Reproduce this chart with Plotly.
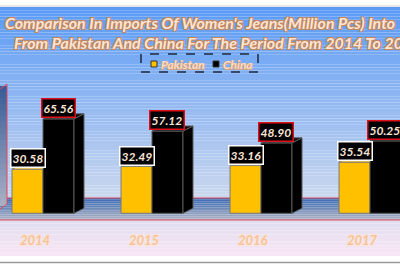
import plotly.graph_objects as go

# ---------------- data ----------------
years = ["2014", "2015", "2016", "2017"]
pakistan = [30.58, 32.49, 33.16, 35.54]
china = [65.56, 57.12, 48.90, 50.25]
series_names = ["Pakistan", "China"]
title_line1 = "Comparison In Imports Of Women's Jeans(Million Pcs) Into"
title_line2 = "From Pakistan And China For The Period From 2014 To 2017"

# ---------------- styling ----------------
W, H = 400, 266
PAK_COL = "#FFC000"
CHN_COL = "#000000"
EDGE = "#5a5a5a"
BW = 0.284          # bar width in category units
DX, DY = 0.092, 3.5  # 3D depth offsets (x in category units, y in value units)
FONT = "Lato"
PEACH = "#fbe5d6"
OUT = "#c4865c"
outline = ", ".join(f"{a}px {b}px 0.6px {OUT}" for a, b in [(-1, -1), (1, -1), (-1, 1), (1, 1)])
soft_outline = ", ".join(f"{a}px {b}px 0.4px #fde6d4" for a, b in [(-0.6, -0.6), (0.6, -0.6), (-0.6, 0.6), (0.6, 0.6)])
leg_outline = ", ".join(f"{a}px {b}px 0.4px #d9a27c" for a, b in [(-0.5, -0.5), (0.5, -0.5), (-0.5, 0.5), (0.5, 0.5)])


def px(x):
    return x / W


def py(p):
    return 1 - p / H


def hex2rgb(h):
    h = h.lstrip("#")
    return [int(h[i:i + 2], 16) for i in (0, 2, 4)]


def mix(c1, c2, t):
    a, b = hex2rgb(c1), hex2rgb(c2)
    return "rgb(%d,%d,%d)" % tuple(round(a[i] + (b[i] - a[i]) * t) for i in range(3))


shapes = []


def gradient(x0, x1, p0, p1, c1, c2, n):
    for k in range(n):
        t = k / max(n - 1, 1)
        shapes.append(dict(type="rect", xref="paper", yref="paper", layer="below",
                           x0=px(x0), x1=px(x1),
                           y0=py(p0 + (p1 - p0) * k / n), y1=py(p0 + (p1 - p0) * (k + 1) / n),
                           fillcolor=mix(c1, c2, t), line=dict(width=0)))


# page/background
gradient(0, W, 7, 198, "#5a9af5", "#cad7ee", 60)
gradient(0, W, 198, 220, "#3c6cb4", "#aab0c2", 12)
gradient(0, W, 220, 256, "#e2def0", "#f7e6f4", 10)
shapes.append(dict(type="rect", xref="paper", yref="paper", layer="below", x0=0, x1=1,
                   y0=py(7), y1=1, fillcolor="#ffffff", line=dict(width=0)))
shapes.append(dict(type="line", xref="paper", yref="paper", layer="below", x0=0, x1=1,
                   y0=py(6), y1=py(6), line=dict(color="#d0d0d0", width=1)))
shapes.append(dict(type="rect", xref="paper", yref="paper", layer="below", x0=0, x1=1,
                   y0=0, y1=py(256), fillcolor="#ffffff", line=dict(width=0)))
shapes.append(dict(type="line", xref="paper", yref="paper", layer="below", x0=0, x1=1,
                   y0=py(262.5), y1=py(262.5), line=dict(color="#9a9a9a", width=1.5)))
for p in (198, 220):
    shapes.append(dict(type="line", xref="paper", yref="paper", layer="below", x0=0, x1=1,
                       y0=py(p), y1=py(p), line=dict(color="#e0485a", width=1)))
# left wall
gradient(0, 7, 86, 206, "#3a5c98", "#a8aec4", 20)
shapes.append(dict(type="path", xref="paper", yref="paper", layer="below",
                   path=f"M{px(0)},{py(89)} L{px(7)},{py(84)} L{px(7)},{py(204)} L{px(0)},{py(209)}",
                   line=dict(color="#e0485a", width=1)))
# legend: dashed box + swatches
shapes.append(dict(type="rect", xref="paper", yref="paper", x0=px(141), x1=px(258),
                   y0=py(72), y1=py(54), line=dict(color="#1c2840", width=1.5, dash="dash")))
legend_x = [151, 213]
for lx, col in zip(legend_x, [PAK_COL, CHN_COL]):
    shapes.append(dict(type="rect", xref="paper", yref="paper", x0=px(lx), x1=px(lx + 6),
                       y0=py(67), y1=py(61), fillcolor=col, line=dict(color="#333333", width=1)))

fig = go.Figure()
xs = list(range(len(years)))

fig.add_trace(go.Bar(x=xs, y=pakistan, width=BW, offset=-BW, marker=dict(color=PAK_COL, line=dict(color="#7a7a7a", width=1)),
                     name=series_names[0], showlegend=False, hoverinfo="skip"))
fig.add_trace(go.Bar(x=xs, y=china, width=BW, offset=0, marker=dict(color=CHN_COL, line=dict(color=EDGE, width=1)),
                     name=series_names[1], showlegend=False, hoverinfo="skip"))

# 3D faces derived from the data
for i, v in zip(xs, pakistan):
    fig.add_trace(go.Scatter(x=[i - BW, i, i, i - BW + DX, i - BW], y=[v, v, v + DY, v + DY, v],
                             fill="toself", fillcolor="#ffd24d", mode="lines",
                             line=dict(color="#7a7a7a", width=0.8), showlegend=False, hoverinfo="skip"))
for i, v in zip(xs, china):
    fig.add_trace(go.Scatter(x=[i + BW, i + BW + DX, i + BW + DX, i + BW, i + BW], y=[0, DY, v + DY, v, 0],
                             fill="toself", fillcolor="#000000", mode="lines",
                             line=dict(color=EDGE, width=1), showlegend=False, hoverinfo="skip"))
    fig.add_trace(go.Scatter(x=[i, i + BW, i + BW + DX, i + DX, i], y=[v, v, v + DY, v + DY, v],
                             fill="toself", fillcolor="#0a0a0a", mode="lines",
                             line=dict(color=EDGE, width=1), showlegend=False, hoverinfo="skip"))

annotations = []
label_font = dict(family=FONT, size=12, color=PEACH, weight="bold", style="italic")
for i, v in zip(xs, pakistan):
    annotations.append(dict(x=i - BW / 2, y=v, xref="x", yref="y", text=f"{v:.2f}", showarrow=False,
                            yanchor="bottom", yshift=1, bgcolor="#000000", bordercolor="#ffffff",
                            borderwidth=1.5, borderpad=1, font=label_font))
for i, v in zip(xs, china):
    annotations.append(dict(x=i + BW / 2, y=v, xref="x", yref="y", text=f"{v:.2f}", showarrow=False,
                            yanchor="bottom", yshift=1, bgcolor="#000000", bordercolor="#e0101a",
                            borderwidth=1.5, borderpad=1, font=label_font))
for i, yr in zip(xs, years):
    annotations.append(dict(x=i, y=py(240), xref="x", yref="paper", text=yr, showarrow=False,
                            xshift=-8, yanchor="middle",
                            font=dict(family=FONT, size=13, color="#f6c29c", weight="bold", style="italic",
                                      shadow=soft_outline)))
for lx, name in zip(legend_x, series_names):
    annotations.append(dict(x=px(lx + 8), y=py(64), xref="paper", yref="paper", text=name, showarrow=False,
                            xanchor="left", yanchor="middle",
                            font=dict(family=FONT, size=12, color="#fbdcc4", weight="bold", style="italic",
                                      shadow=leg_outline)))
title_font = dict(family=FONT, size=16, color=PEACH, weight="bold", style="italic", shadow=outline)
annotations.append(dict(x=px(3), y=py(23), xref="paper", yref="paper", text=title_line1, showarrow=False,
                        xanchor="left", yanchor="middle", font=title_font))
annotations.append(dict(x=px(12), y=py(43), xref="paper", yref="paper", text=title_line2, showarrow=False,
                        xanchor="left", yanchor="middle", font=title_font))

fig.update_layout(
    width=W, height=H, margin=dict(l=0, r=0, t=0, b=0),
    paper_bgcolor="#ffffff", plot_bgcolor="rgba(0,0,0,0)",
    barmode="overlay",
    xaxis=dict(range=[-0.3945, 3.2752], visible=False, fixedrange=True),
    yaxis=dict(range=[-36.6, 148.1], visible=False, fixedrange=True),
    shapes=shapes, annotations=annotations,
    showlegend=False,
)

fig.write_html("out.html")
